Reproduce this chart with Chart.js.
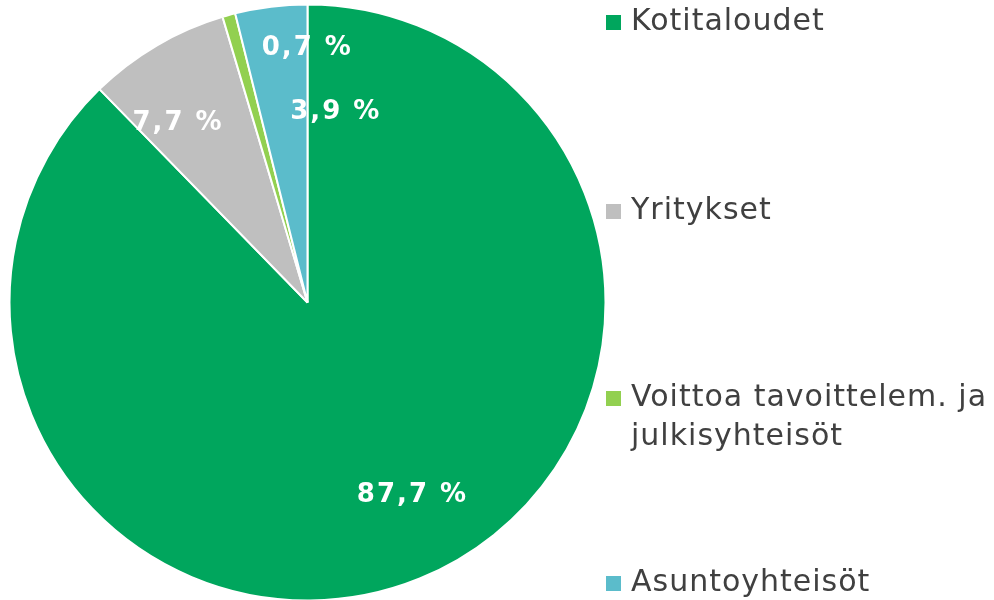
<!DOCTYPE html>
<html>
<head>
<meta charset="utf-8">
<script src="https://cdn.jsdelivr.net/npm/chart.js@4"></script>
<style>
  html, body { margin: 0; padding: 0; background: #fff; overflow: hidden; }
  #wrap { width: 994px; height: 600px; }
</style>
</head>
<body>
<div id="wrap"><canvas id="pieChart"></canvas></div>
<script>
'use strict';

// sectors, clockwise from 12 o'clock
const labels = [
  "Kotitaloudet",
  "Yritykset",
  "Voittoa tavoittelem. ja julkisyhteisöt",
  "Asuntoyhteisöt"
];
const legendLines = [
  ["Kotitaloudet"],
  ["Yritykset"],
  ["Voittoa tavoittelem. ja", "julkisyhteisöt"],
  ["Asuntoyhteisöt"]
];
const shares = [87.7, 7.7, 0.7, 3.9];
const valueLabels = ["87,7 %", "7,7 %", "0,7 %", "3,9 %"];
const colors = ["#00A65D", "#BFBFBF", "#92D050", "#5BBCCB"];

// label placement: fraction of radius along the mid angle, then a nudge
const labelFrac = [0.73, 0.745, 0.855, 0.65];
const labelNudge = [[23, -9], [-17, 12], [67, -8], [52, 2]];
// legend rows (text centre of first line)
const legendY = [22, 211, 398, 583];

const sliceLabels = {
  id: 'sliceLabels',
  afterDatasetsDraw(chart) {
    const c = chart.ctx;
    const arcs = chart.getDatasetMeta(0).data;
    c.save();
    c.font = 'bold 26px "DejaVu Sans", Verdana, sans-serif';
    c.letterSpacing = '2px';
    c.fillStyle = '#ffffff';
    c.textAlign = 'center';
    c.textBaseline = 'middle';
    arcs.forEach(function(a, i) {
      const mid = (a.startAngle + a.endAngle) / 2;
      const r = a.outerRadius * labelFrac[i];
      const x = a.x + Math.cos(mid) * r + labelNudge[i][0];
      const y = a.y + Math.sin(mid) * r + labelNudge[i][1];
      c.fillText(valueLabels[i], x, y);
    });
    c.restore();
  }
};

const sideLegend = {
  id: 'sideLegend',
  afterDraw(chart) {
    const c = chart.ctx;
    c.save();
    c.font = '30px "DejaVu Sans", Verdana, sans-serif';
    c.letterSpacing = '1px';
    c.textBaseline = 'middle';
    c.textAlign = 'left';
    legendLines.forEach(function(lines, i) {
      const y = legendY[i];
      c.fillStyle = colors[i];
      c.fillRect(606, y - 7, 15, 15);
      c.fillStyle = '#404040';
      lines.forEach(function(t, j) {
        c.fillText(t, 631, y + j * 39);
      });
    });
    c.restore();
  }
};

const pieChart = new Chart(document.getElementById('pieChart'), {
  type: 'pie',
  data: {
    labels: labels,
    datasets: [{
      data: shares,
      backgroundColor: colors,
      borderColor: '#ffffff',
      borderWidth: 2
    }]
  },
  options: {
    responsive: true,
    maintainAspectRatio: false,
    animation: false,
    radius: 298,
    layout: { padding: { left: 10, top: 5, right: 389, bottom: 0 } },
    plugins: {
      legend: { display: false },
      tooltip: { enabled: false }
    }
  },
  plugins: [sliceLabels, sideLegend]
});
</script>
</body>
</html>
